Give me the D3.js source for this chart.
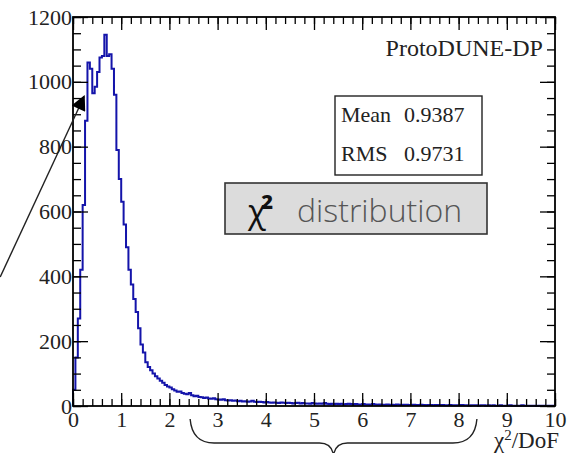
<!DOCTYPE html>
<html><head><meta charset="utf-8">
<script src="https://cdn.jsdelivr.net/npm/d3@7"></script>
<style>body{margin:0;background:#fff}svg{display:block}</style>
</head><body>
<svg id="c" width="573" height="453"></svg>
<script>
// ---- data ----
const binWidth = 0.05;
const binStart = 0;
const counts = [
 50,150,270,420,620,880,1060,1040,965,985,
 1030,1075,1080,1145,1080,1085,1040,960,790,700,
 630,560,490,420,375,330,290,240,190,165,
 135,120,110,100,92,85,78,72,65,60,
 57,52,48,44,45,40,38,36,40,33,
 30,32,28,27,25,26,23,22,24,21,
 20,19,21,18,17,18,16,17,15,16,14,15,13,14,16,13,12,13,12,11,
 12,11,10,11,10,9,11,10,9,10,9,8,9,10,8,9,8,8,7,9,
 8,7,8,7,9,7,6,7,6,7,6,7,5,6,7,6,5,6,5,5,
 6,5,5,4,6,5,4,5,4,4,5,4,4,3,5,4,3,4,4,3,
 3,4,3,3,4,3,2,3,3,2,3,3,2,3,2,2,3,2,2,2,
 2,3,2,2,1,2,2,2,1,2,2,1,2,1,2,1,1,2,1,1,
 1,2,1,1,1,1,2,1,1,1,1,1,0,1,1,1,0,1,1,1
];
const xTicks = [0,1,2,3,4,5,6,7,8,9,10];
const yTicks = [0,200,400,600,800,1000,1200];
const xTitle = ["χ","2","/DoF"];
const experiment = "ProtoDUNE-DP";
const statsLabels = ["Mean","RMS"];
const statsValues = ["0.9387","0.9731"];
const boxTitle = ["χ","²","distribution"];
const arrowPts = [[-1.51,398],[0.23,955]];   // data coords
const braceRange = [2.43, 8.38];

(function(){
const svg = d3.select("#c");
const x = d3.scaleLinear().domain([0,10]).range([73,555]);
const y = d3.scaleLinear().domain([0,1200]).range([406,17]);
const serif = "'Liberation Serif','Times New Roman',serif";
const fs = 22;

// histogram
const pts = [[0,0]];
counts.forEach((c,i)=>pts.push([binStart+i*binWidth,c]));
pts.push([binStart+counts.length*binWidth, counts[counts.length-1]]);
svg.append("path")
  .attr("d", d3.line().x(d=>x(d[0])).y(d=>y(d[1])).curve(d3.curveStepAfter)(pts))
  .attr("fill","none").attr("stroke","#1414aa").attr("stroke-width",2);

function styleAxis(g){ g.attr("font-family",null).attr("font-size",null);
  g.select(".domain").remove(); g.selectAll("line").attr("stroke","#000").attr("stroke-width",1.3);
  g.selectAll("text").style("font-family",serif).style("font-size",fs+"px").attr("fill","#222"); }
const xMinor = d3.range(0,10.001,0.2);
const yMinor = d3.range(0,1200.1,50);
svg.append("g").attr("transform",`translate(0,${y(0)})`)
  .call(d3.axisBottom(x).tickValues(xMinor).tickSize(-7).tickFormat("")).call(styleAxis);
svg.append("g").attr("transform",`translate(0,${y(0)})`)
  .call(d3.axisBottom(x).tickValues(xTicks).tickSize(-13).tickPadding(5).tickFormat(d3.format("d"))).call(styleAxis)
  .selectAll("text").attr("dy","0.72em");
svg.append("g").attr("transform",`translate(0,${y(1200)})`)
  .call(d3.axisTop(x).tickValues(xMinor).tickSize(-7).tickFormat("")).call(styleAxis);
svg.append("g").attr("transform",`translate(0,${y(1200)})`)
  .call(d3.axisTop(x).tickValues(xTicks).tickSize(-13).tickFormat("")).call(styleAxis);
svg.append("g").attr("transform",`translate(${x(0)},0)`)
  .call(d3.axisLeft(y).tickValues(yMinor).tickSize(-8).tickFormat("")).call(styleAxis);
svg.append("g").attr("transform",`translate(${x(0)},0)`)
  .call(d3.axisLeft(y).tickValues(yTicks).tickSize(-15).tickPadding(1).tickFormat(d3.format("d"))).call(styleAxis);
svg.append("g").attr("transform",`translate(${x(10)},0)`)
  .call(d3.axisRight(y).tickValues(yMinor).tickSize(-8).tickFormat("")).call(styleAxis);
svg.append("g").attr("transform",`translate(${x(10)},0)`)
  .call(d3.axisRight(y).tickValues(yTicks).tickSize(-15).tickFormat("")).call(styleAxis);

svg.append("rect").attr("x",x(0)).attr("y",y(1200)).attr("width",x(10)-x(0)).attr("height",y(0)-y(1200))
  .attr("fill","none").attr("stroke","#000").attr("stroke-width",1.8);

// x title
const xt = svg.append("text").attr("x",x(10)+4).attr("y",448).attr("text-anchor","end")
  .style("font-family",serif).style("font-size","23px").attr("fill","#222");
xt.append("tspan").text(xTitle[0]);
xt.append("tspan").attr("dy",-8).style("font-size","15px").text(xTitle[1]);
xt.append("tspan").attr("dy",8).text(xTitle[2]);

svg.append("text").attr("x",x(9.75)).attr("y",56).attr("text-anchor","end")
  .style("font-family",serif).style("font-size","24px").attr("fill","#222").text(experiment);

const sb = svg.append("g");
sb.append("rect").attr("x",335).attr("y",96).attr("width",147).attr("height",79)
  .attr("fill","#fff").attr("stroke","#222").attr("stroke-width",1.4);
statsLabels.forEach((l,i)=>{
  sb.append("text").attr("x",341).attr("y",122+i*39).style("font-family",serif).style("font-size","22px").attr("fill","#222").text(l);
  sb.append("text").attr("x",404).attr("y",122+i*39).style("font-family",serif).style("font-size","22px").attr("fill","#222").text(statsValues[i]);
});

svg.append("rect").attr("x",225).attr("y",183).attr("width",262).attr("height",51)
  .attr("fill","#dcdcdc").attr("stroke","#333").attr("stroke-width",1.6);
const bt = svg.append("text").attr("x",248).attr("y",223).style("font-family","'Open Sans',sans-serif").style("font-size","33px")
  .attr("fill","#111");
bt.append("tspan").text(boxTitle[0]);
bt.append("tspan").attr("dx",-5).attr("font-weight",700).text(boxTitle[1]);
svg.append("text").attr("x",297).attr("y",222).style("font-family","'Open Sans',sans-serif").style("font-size","32px")
  .attr("fill","#555").attr("font-weight",300).text(boxTitle[2]);

const defs = svg.append("defs");
defs.append("marker").attr("id","ah").attr("viewBox","0 0 10 10").attr("refX",9).attr("refY",5)
  .attr("orient","auto").attr("markerUnits","userSpaceOnUse")
  .attr("markerWidth",20).attr("markerHeight",15)
  .append("path").attr("d","M0,0L10,5L0,10z").attr("fill","#000");
svg.append("line").attr("x1",x(arrowPts[0][0])).attr("y1",y(arrowPts[0][1]))
  .attr("x2",x(arrowPts[1][0])).attr("y2",y(arrowPts[1][1]))
  .attr("stroke","#222").attr("stroke-width",1.4).attr("marker-end","url(#ah)");

const bx0 = x(braceRange[0]), bx1 = x(braceRange[1]), bm = (bx0+bx1)/2;
const bTop = 419, bMid = 443, bTip = 455;
const bp = d3.path();
bp.moveTo(bx0, bTop);
bp.quadraticCurveTo(bx0+2, bMid, bx0+24, bMid);
bp.lineTo(bm-14, bMid);
bp.quadraticCurveTo(bm-2, bMid, bm, bTip);
bp.quadraticCurveTo(bm+2, bMid, bm+14, bMid);
bp.lineTo(bx1-24, bMid);
bp.quadraticCurveTo(bx1-2, bMid, bx1, bTop);
svg.append("path").attr("d",bp.toString()).attr("fill","none").attr("stroke","#222").attr("stroke-width",1.4);
})();
</script>
</body></html>
